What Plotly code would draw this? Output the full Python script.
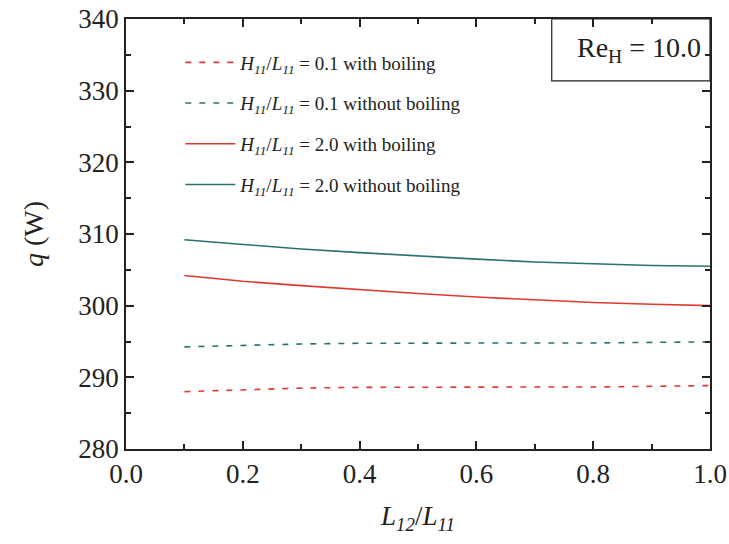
import plotly.graph_objects as go

x_ratio = [0.1, 0.2, 0.3, 0.4, 0.5, 0.6, 0.7, 0.8, 0.9, 1.0]
q_01_boil = [288.0, 288.3, 288.5, 288.6, 288.65, 288.65, 288.65, 288.65, 288.7, 288.85]
q_01_noboil = [294.25, 294.5, 294.65, 294.75, 294.8, 294.8, 294.8, 294.8, 294.85, 294.95]
q_20_boil = [304.2, 303.4, 302.8, 302.2, 301.7, 301.2, 300.8, 300.45, 300.2, 300.0]
q_20_noboil = [309.2, 308.5, 307.9, 307.4, 306.9, 306.5, 306.1, 305.8, 305.6, 305.5]

RED = "#dd3b2f"
TEAL = "#2a7170"
HL = "<i>H</i><sub><i>11</i></sub>/<i>L</i><sub><i>11</i></sub>"

series = [
    (q_01_boil, RED, "6px,8px", HL + " = 0.1 with boiling"),
    (q_01_noboil, TEAL, "6px,8px", HL + " = 0.1 without boiling"),
    (q_20_boil, RED, "solid", HL + " = 2.0 with boiling"),
    (q_20_noboil, TEAL, "solid", HL + " = 2.0 without boiling"),
]

fig = go.Figure()
for i, (ys, col, dash, name) in enumerate(series):
    fig.add_trace(go.Scatter(x=x_ratio, y=ys, mode="lines", name=name, legendgroup=f"g{i}",
                             line=dict(color=col, width=1.6, dash=dash)))

font = "'Liberation Serif', 'Times New Roman', Times, serif"
axis_common = dict(showline=True, linecolor="#222", linewidth=1.8, mirror="allticks",
                   ticks="inside", ticklen=8, tickwidth=1.6, tickcolor="#222",
                   showgrid=False, zeroline=False, automargin=False,
                   tickfont=dict(family=font, size=27, color="#222"))

fig.update_xaxes(range=[0, 1.0], tick0=0, dtick=0.2,
                 minor=dict(ticks="inside", ticklen=5, tickwidth=1.6, tickcolor="#222", dtick=0.1),
                 tickformat=".1f",
                 title=dict(text="<i>L</i><sub><i>12</i></sub>/<i>L</i><sub><i>11</i></sub>",
                            font=dict(family=font, size=27, color="#222"), standoff=18),
                 **axis_common)
fig.update_yaxes(range=[280, 340], tick0=280, dtick=10,
                 minor=dict(ticks="inside", ticklen=5, tickwidth=1.6, tickcolor="#222", dtick=5),
                 title=dict(text="<i>q</i> (W)", font=dict(family=font, size=28, color="#222"),
                            standoff=26),
                 **axis_common)

fig.add_shape(type="rect", xref="paper", yref="paper", x0=0.729, x1=1.0, y0=0.856, y1=1.0,
              line=dict(color="#222", width=1.2), fillcolor="white", layer="below")
fig.add_annotation(xref="paper", yref="paper", x=0.878, y=0.928, xanchor="center",
                   yanchor="middle", showarrow=False,
                   text="Re<sub>H</sub> = 10.0", font=dict(family=font, size=28, color="#222"))

fig.update_layout(
    width=729, height=544,
    font=dict(family=font, color="#222"),
    margin=dict(l=126, r=19, t=19, b=95, autoexpand=False),
    plot_bgcolor="white", paper_bgcolor="white",
    legend=dict(x=0.093, y=0.943, xanchor="left", yanchor="top",
                bgcolor="rgba(0,0,0,0)", font=dict(family=font, size=19, color="#222"),
                traceorder="grouped", tracegroupgap=13, itemwidth=50),
    showlegend=True,
)

fig.write_html("out.html")
